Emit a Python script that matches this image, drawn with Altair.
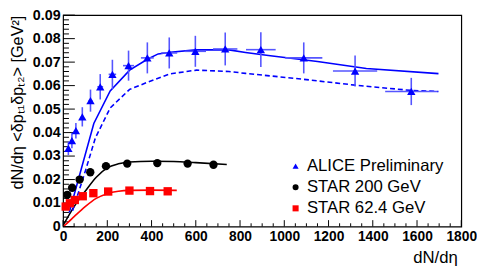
import altair as alt
import pandas as pd

# ---------------- data ----------------
alice_x = [24, 40, 58, 87, 124, 168, 223, 296, 381, 480, 598, 733, 894, 1088, 1320, 1574]
alice_y = [0.0333, 0.0366, 0.0408, 0.0467, 0.0536, 0.0595, 0.0648, 0.0685, 0.0718,
           0.0739, 0.0746, 0.0756, 0.0753, 0.0718, 0.0662, 0.0575]
alice_ey = [0.0029, 0.0033, 0.0033, 0.0041, 0.0047, 0.0054, 0.0062, 0.0064, 0.0066,
            0.0066, 0.0066, 0.0070, 0.0074, 0.0066, 0.0066, 0.0058]
alice_ex = [2, 3, 4, 7, 9, 13, 17, 25, 29, 36, 48, 55, 67, 84, 100, 118]

star200_x = [19, 41, 75, 123, 194, 290, 426, 563, 680]
star200_y = [0.0135, 0.0165, 0.0200, 0.0231, 0.0257, 0.0268, 0.0270, 0.0268, 0.0263]

star62_x = [12, 31, 53, 89, 137, 204, 300, 393, 473]
star62_y = [0.0085, 0.0099, 0.0113, 0.0129, 0.0142, 0.0149, 0.0153, 0.0151, 0.0150]

alice_solid_x = [28, 139, 213, 301, 381, 430, 485, 600, 750, 825, 928, 1150, 1371, 1697]
alice_solid_y = [0.0060, 0.0439, 0.0577, 0.0666, 0.0712, 0.0735, 0.0742, 0.0752, 0.0752,
                 0.0741, 0.0728, 0.0703, 0.0673, 0.0651]

alice_dash_x = [43, 102, 146, 213, 301, 381, 484, 603, 750, 825, 1076, 1320, 1578, 1697]
alice_dash_y = [0.0067, 0.0240, 0.0377, 0.0505, 0.0584, 0.0614, 0.0650, 0.0666, 0.0660,
                0.0652, 0.0628, 0.0602, 0.0579, 0.0575]

star200_m_x = [2, 50, 100, 150, 200, 250, 300, 400, 500, 600, 740]
star200_m_y = [0.0008, 0.0085, 0.0150, 0.0210, 0.0250, 0.0267, 0.0275, 0.0278, 0.0277, 0.0272, 0.0264]

star62_m_x = [4, 25, 50, 100, 150, 200, 250, 300, 400, 514]
star62_m_y = [0.0003, 0.0020, 0.0042, 0.0085, 0.0120, 0.0140, 0.0150, 0.0154, 0.0155, 0.0154]

series_names = ["ALICE Preliminary", "STAR 200 GeV", "STAR 62.4 GeV"]
series_colors = ["#0000ff", "#000000", "#ff0000"]
series_shapes = ["triangle-up", "circle", "square"]

x_tick_labels = list(range(0, 1801, 200))
y_tick_labels = [round(i * 0.01, 2) for i in range(10)]
x_minor = [v for v in range(0, 1801, 50) if v % 200 != 0]
y_minor = [round(i * 0.002, 3) for i in range(46) if i % 5 != 0]

# ---------------- tables ----------------
W, H = 405, 215
FONT = "Liberation Sans"

pts = pd.concat([
    pd.DataFrame({"x": alice_x, "y": alice_y, "s": series_names[0]}),
    pd.DataFrame({"x": star200_x, "y": star200_y, "s": series_names[1]}),
    pd.DataFrame({"x": star62_x, "y": star62_y, "s": series_names[2]}),
])
err = pd.DataFrame({"x": alice_x, "y": alice_y, "ex": alice_ex, "ey": alice_ey})
err["x1"] = err.x - err.ex
err["x2"] = err.x + err.ex
err["y1"] = err.y - err.ey
err["y2"] = err.y + err.ey

xs = alt.Scale(domain=[0, 1800], nice=False, zero=False)
ys = alt.Scale(domain=[0, 0.09], nice=False, zero=False)

X_AX = alt.Axis(
    values=x_tick_labels, format="d", labelFont=FONT, labelFontWeight="bold", labelFontSize=14,
    labelColor="#000", labelPadding=3, ticks=False, domain=False, grid=False,
    labelOverlap=False, labelFlush=False,
    title="dN/dη", titleFont=FONT, titleFontWeight="normal", titleFontSize=17,
    titleColor="#000", titleAlign="right", titleX=401, titleY=37,
    titleBaseline="alphabetic")
Y_AX = alt.Axis(
    values=y_tick_labels, labelFont=FONT, labelFontWeight="bold", labelFontSize=14.5,
    labelColor="#000", labelPadding=3, ticks=False, domain=False, grid=False,
    labelOverlap=False, labelFlush=False,
    labelExpr="datum.value == 0 ? '0' : format(datum.value, '.2f')",
    title="dN/dη <δpₜ₁δpₜ₂> [GeV²]", titleFont=FONT, titleFontWeight="normal",
    titleFontSize=16.5, titleColor="#000", titleAngle=270, titleAlign="right",
    titleX=-41, titleY=0, titleBaseline="alphabetic")


def XE(field):
    return alt.X(field, scale=xs, axis=X_AX)


def YE(field):
    return alt.Y(field, scale=ys, axis=Y_AX)


def line(xv, yv, color, dash=None, interp="linear"):
    df = pd.DataFrame({"x": xv, "y": yv})
    kw = dict(color=color, strokeWidth=1.6, interpolate=interp, clip=True)
    if dash:
        kw["strokeDash"] = dash
    return alt.Chart(df).mark_line(**kw).encode(x=XE("x:Q"), y=YE("y:Q"))


def yticks(vals, length):
    return alt.Chart(pd.DataFrame({"y": vals})).mark_rule(color="#000", strokeWidth=1).encode(
        y=YE("y:Q"), x=alt.value(0), x2=alt.value(length))


def xticks(vals, length):
    return alt.Chart(pd.DataFrame({"x": vals})).mark_rule(color="#000", strokeWidth=1).encode(
        x=XE("x:Q"), y=alt.value(H), y2=alt.value(H - length))


ticks = yticks(y_tick_labels, 12) + yticks(y_minor, 6) + xticks(x_tick_labels, 6.5) + xticks(x_minor, 3.3)

lines = (line(star200_m_x, star200_m_y, "#000000", interp="monotone")
         + line(star62_m_x, star62_m_y, "#ff0000", interp="monotone")
         + line(alice_solid_x, alice_solid_y, "#0000ff")
         + line(alice_dash_x, alice_dash_y, "#0000ff", dash=[5, 3]))

ebar_color = "#5555ff"
ey_rules = alt.Chart(err).mark_rule(color=ebar_color, strokeWidth=1.6).encode(
    x=XE("x:Q"), y=YE("y1:Q"), y2="y2:Q")
ex_rules = alt.Chart(err).mark_rule(color=ebar_color, strokeWidth=1.6).encode(
    x=XE("x1:Q"), x2="x2:Q", y=YE("y:Q"))

points = alt.Chart(pts).mark_point(filled=True, opacity=1, size=72).encode(
    x=XE("x:Q"),
    y=YE("y:Q"),
    color=alt.Color("s:N", scale=alt.Scale(domain=series_names, range=series_colors),
                    legend=alt.Legend(orient="none", legendX=228, legendY=145, title=None,
                                      symbolSize=38, labelFont=FONT, labelFontSize=17,
                                      labelColor="#000", rowPadding=3.5, labelOffset=3,
                                      padding=0)),
    shape=alt.Shape("s:N", scale=alt.Scale(domain=series_names, range=series_shapes)),
)

chart = alt.layer(ticks, lines, ey_rules, ex_rules, points).properties(
    width=W, height=H, autosize=alt.AutoSizeParams(type="none"),
    padding={"left": 56, "top": 5, "right": 16, "bottom": 45},
    background="white",
).configure_view(stroke="#000", strokeWidth=1.2)

chart.save("out.html", embed_options={"renderer": "svg", "actions": False})
